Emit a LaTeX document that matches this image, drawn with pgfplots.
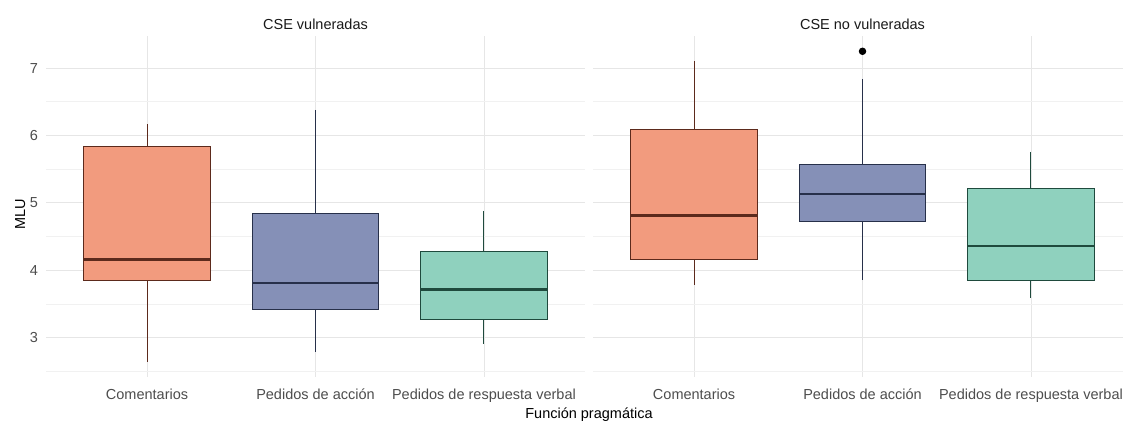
\documentclass[border=0pt]{standalone}
\usepackage{pgfplots}
\pgfplotsset{compat=1.18}
\usepgfplotslibrary{statistics}
\usepackage{fontspec}
\setmainfont{Liberation Sans}
\definecolor{cOr}{HTML}{F29B7E}
\definecolor{cBl}{HTML}{8590B7}
\definecolor{cGr}{HTML}{8FD1BE}
\definecolor{cOrD}{HTML}{5C2A1C}
\definecolor{cBlD}{HTML}{27304A}
\definecolor{cGrD}{HTML}{1F4A3D}
\definecolor{gridc}{HTML}{E6E6E6}
\definecolor{gridm}{HTML}{F1F1F1}
\definecolor{tickc}{HTML}{4D4D4D}
\begin{document}
\fontsize{14.5}{17}\selectfont
\begin{tikzpicture}[x=1pt,y=1pt]
\useasboundingbox (0,0) rectangle (1123,421);
\pgfplotsset{panel/.style={scale only axis, width=539pt, height=341.4pt,
  xmin=0.4, xmax=3.6, ymin=2.41, ymax=7.48,
  xtick={1,2,3}, xticklabels={Comentarios,Pedidos de acción,Pedidos de respuesta verbal},
  ytick={3,4,5,6,7}, minor ytick={2.5,3.5,4.5,5.5,6.5},
  grid=both, major grid style={color=gridc, line width=0.8pt},
  minor grid style={color=gridm, line width=0.6pt},
  axis line style={draw=none}, major tick length=0pt, minor tick length=0pt,
  tick label style={color=tickc, font=\fontsize{14.5}{17}\selectfont},
  xticklabel style={anchor=base, yshift=-21.8pt},
  yticklabel style={xshift=-3pt},
  /pgf/number format/assume math mode=true,
  boxplot/draw direction=y}}
\begin{axis}[panel, at={(46pt,43.8pt)}, anchor=south west]
\addplot[boxplot prepared={draw position=1, lower whisker=2.64, lower quartile=3.85, median=4.16, upper quartile=5.83, upper whisker=6.17, box extend=0.75, whisker extend=0, every median/.style={line width=2.4pt}}, fill=cOr, draw=cOrD, line width=1pt] coordinates {};
\addplot[boxplot prepared={draw position=2, lower whisker=2.79, lower quartile=3.42, median=3.81, upper quartile=4.84, upper whisker=6.38, box extend=0.75, whisker extend=0, every median/.style={line width=2.4pt}}, fill=cBl, draw=cBlD, line width=1pt] coordinates {};
\addplot[boxplot prepared={draw position=3, lower whisker=2.91, lower quartile=3.26, median=3.71, upper quartile=4.28, upper whisker=4.88, box extend=0.75, whisker extend=0, every median/.style={line width=2.4pt}}, fill=cGr, draw=cGrD, line width=1pt] coordinates {};
\end{axis}
\begin{axis}[panel, at={(593pt,43.8pt)}, anchor=south west, yticklabels={}]
\addplot[boxplot prepared={draw position=1, lower whisker=3.78, lower quartile=4.16, median=4.81, upper quartile=6.09, upper whisker=7.11, box extend=0.75, whisker extend=0, every median/.style={line width=2.4pt}}, fill=cOr, draw=cOrD, line width=1pt] coordinates {};
\addplot[boxplot prepared={draw position=2, lower whisker=3.85, lower quartile=4.72, median=5.13, upper quartile=5.57, upper whisker=6.84, box extend=0.75, whisker extend=0, every median/.style={line width=2.4pt}}, fill=cBl, draw=cBlD, line width=1pt, mark=*, mark size=3.2pt, mark options={fill=black, draw=black}] coordinates {(2,7.25)};
\addplot[boxplot prepared={draw position=3, lower whisker=3.59, lower quartile=3.84, median=4.36, upper quartile=5.21, upper whisker=5.76, box extend=0.75, whisker extend=0, every median/.style={line width=2.4pt}}, fill=cGr, draw=cGrD, line width=1pt] coordinates {};
\end{axis}
\node[anchor=base, text=black!90] at (315.5,391.7) {CSE vulneradas};
\node[anchor=base, text=black!90] at (862.5,391.7) {CSE no vulneradas};
\node[anchor=base] at (589,3) {Función pragmática};
\node[rotate=90, anchor=base] at (25,206.5) {MLU};
\end{tikzpicture}
\end{document}
